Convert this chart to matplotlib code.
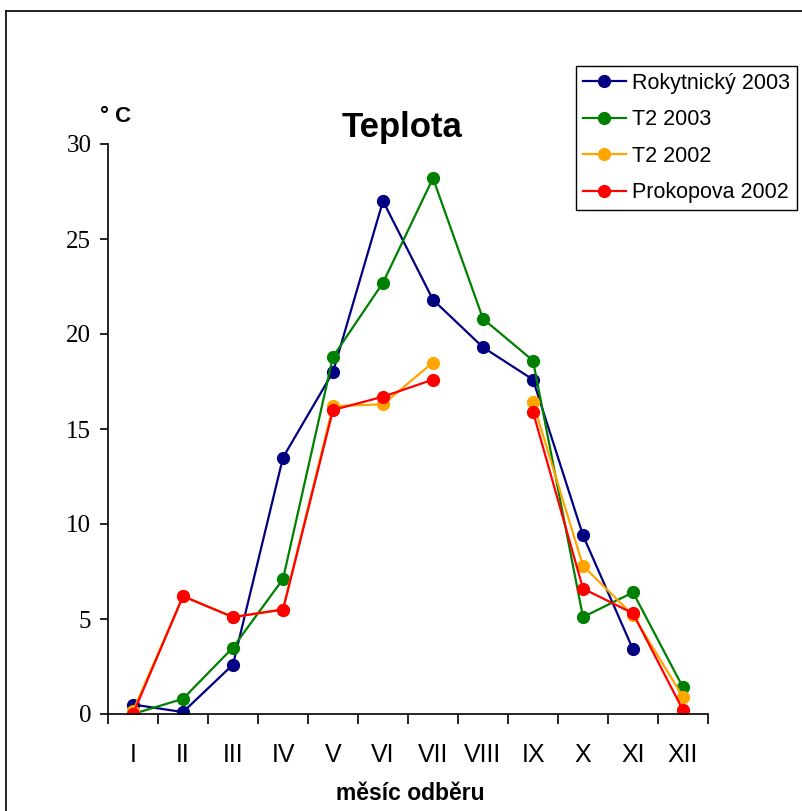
import numpy as np
import matplotlib
matplotlib.use("Agg")
import matplotlib.pyplot as plt
from matplotlib.lines import Line2D

nan = np.nan
months = ["I", "II", "III", "IV", "V", "VI", "VII", "VIII", "IX", "X", "XI", "XII"]

rokytnicky_2003 = [0.5, 0.1, 2.6, 13.5, 18.0, 27.0, 21.8, 19.3, 17.6, 9.4, 3.4, nan]
t2_2003 = [0.0, 0.8, 3.5, 7.1, 18.8, 22.7, 28.2, 20.8, 18.6, 5.1, 6.4, 1.4]
t2_2002 = [0.15, 6.2, 5.1, 5.5, 16.2, 16.3, 18.5, nan, 16.4, 7.8, 5.2, 0.9]
prokopova_2002 = [0.0, 6.2, 5.1, 5.5, 16.0, 16.7, 17.6, nan, 15.9, 6.6, 5.3, 0.2]

series = [
    ("Rokytnický 2003", rokytnicky_2003, "#000080"),
    ("T2 2003", t2_2003, "#008000"),
    ("T2 2002", t2_2002, "#FFA500"),
    ("Prokopova 2002", prokopova_2002, "#FF0000"),
]

W, H = 802, 811
fig = plt.figure(figsize=(W / 100, H / 100), dpi=100)
ax = fig.add_axes([108 / W, 1 - 714 / H, 600 / W, 570 / H])

x = np.arange(len(months))
for name, vals, col in series:
    ax.plot(x, vals, color=col, lw=1.6, marker="o", ms=8.5, label=name)

ax.set_xlim(-0.5, len(months) - 0.5)
ax.set_ylim(0, 30)
ax.set_yticks(np.arange(0, 31, 5))
ax.set_yticklabels([str(v) for v in range(0, 31, 5)],
                   fontfamily="Liberation Serif", fontsize=18)
ax.set_xticks(x)
ax.set_xticklabels(months, fontfamily="Liberation Sans", fontsize=18)
ax.set_xticks(np.arange(-0.5, len(months)), minor=True)
ax.tick_params(axis="x", which="major", length=0, pad=21)
ax.tick_params(axis="x", which="minor", length=7, width=1.2, direction="out")
ax.tick_params(axis="y", length=6, width=1.2, direction="out", pad=6)

for side in ("top", "right"):
    ax.spines[side].set_visible(False)
for side in ("left", "bottom"):
    ax.spines[side].set_linewidth(1.2)

fig.text(402 / W, 1 - 128 / H, "Teplota", ha="center", va="center",
         fontfamily="Liberation Sans", fontweight="bold", fontsize=25)
fig.text(100 / W, 1 - 117 / H, "° C", ha="left", va="center",
         fontfamily="Liberation Sans", fontweight="bold", fontsize=16)
fig.text(410 / W, 1 - 794 / H, "měsíc odběru", ha="center", va="center",
         fontfamily="Liberation Sans", fontweight="bold", fontsize=16.5)

handles = [Line2D([], [], color=c, lw=1.6, marker="o", ms=8.5) for _, _, c in series]
leg = fig.legend(handles, [n for n, _, _ in series], loc="upper right",
                 bbox_to_anchor=(797 / W, 1 - 66 / H), bbox_transform=fig.transFigure,
                 fancybox=False, framealpha=1, edgecolor="black",
                 prop={"family": "Liberation Sans", "size": 15.5},
                 handlelength=2.0, handletextpad=0.3, labelspacing=0.72,
                 borderpad=0.32, borderaxespad=0)
leg.get_frame().set_linewidth(1.0)

# outer frame around the chart area
fig.add_artist(Line2D([5.5 / W, 5.5 / W], [0, 1 - 11 / H], color="black", lw=1.2,
                      transform=fig.transFigure))
fig.add_artist(Line2D([5.5 / W, 1], [1 - 11 / H, 1 - 11 / H], color="black", lw=1.2,
                      transform=fig.transFigure))

fig.savefig("out.png", dpi=100)
